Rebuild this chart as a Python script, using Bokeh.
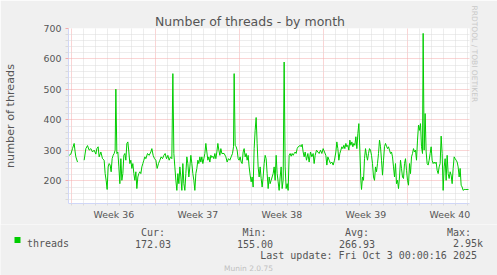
import math
from bokeh.plotting import figure
from bokeh.layouts import column
from bokeh.models import (Range1d, FixedTicker, Label, ColumnDataSource, Title)
from bokeh.embed import file_html
from bokeh.resources import INLINE

NAN = float("nan")

# ---- data (hours since left edge of graph, number of threads) ----
hours = [
    1.3, 4.7, 8.0, 11.3, 13.3, 14.7, 18.0, 24.0, 31.3, 34.7, 38.0, 41.3, 44.7, 48.0, 51.3, 54.7,
    56.7, 59.3, 61.3, 64.7, 68.0, 71.3, 73.3, 75.3, 77.3, 79.3, 81.3, 83.3, 85.3, 87.3, 89.3, 91.3,
    93.3, 94.7, 96.7, 98.7, 100.7, 102.7, 104.7, 106.7, 108.7, 110.7, 112.7, 114.7, 116.7, 118.7,
    120.7, 122.7, 124.7, 126.7, 128.7, 130.7, 132.7, 134.7, 136.7, 138.7, 140.7, 142.7, 144.7,
    146.7, 148.7, 150.7, 152.7, 154.7, 158.0, 161.3, 164.7, 166.7, 169.3, 172.0, 174.7, 177.3,
    180.0, 182.7, 185.3, 188.0, 190.7, 193.3, 196.0, 198.7, 201.3, 204.0, 206.7, 208.7, 210.7,
    212.7, 214.7, 216.7, 218.7, 220.7, 222.7, 224.7, 226.7, 228.7, 230.7, 232.7, 234.7, 236.7,
    238.7, 240.7, 242.7, 244.7, 246.7, 248.7, 250.7, 252.7, 254.7, 256.7, 258.7, 260.7, 262.7,
    264.7, 266.7, 268.7, 270.7, 272.7, 274.7, 276.7, 278.7, 280.7, 282.7, 284.7, 286.7, 288.7,
    290.7, 292.7, 294.7, 296.7, 298.7, 300.7, 302.7, 304.7, 306.7, 311.3, 314.7, 317.3, 320.0,
    322.7, 325.3, 328.0, 330.0, 331.3, 333.3, 335.3, 337.3, 339.3, 341.3, 343.3, 345.3, 347.3,
    349.3, 351.3, 353.3, 355.3, 357.3, 359.3, 361.3, 363.3, 365.3, 367.3, 369.3, 371.3, 373.3,
    375.3, 377.3, 379.3, 381.3, 383.3, 385.3, 387.3, 389.3, 391.3, 393.3, 395.3, 397.3, 399.3,
    401.3, 403.3, 405.3, 407.3, 409.3, 411.3, 413.3, 415.3, 417.3, 419.3, 421.3, 423.3, 425.3,
    427.3, 429.3, 431.3, 433.3, 435.3, 437.3, 439.3, 441.3, 443.3, 445.3, 447.3, 449.3, 451.3,
    453.3, 455.3, 457.3, 459.3, 461.3, 463.3, 465.3, 467.3, 469.3, 471.3, 473.3, 476.0, 478.7,
    481.3, 484.0, 486.7, 489.3, 491.3, 493.3, 496.0, 498.7, 501.3, 504.0, 506.7, 509.3, 512.0,
    514.7, 516.7, 518.7, 521.3, 524.0, 526.7, 529.3, 532.0, 534.7, 536.7, 538.7, 540.7, 542.7,
    544.7, 546.7, 548.7, 550.7, 552.7, 554.7, 556.7, 558.7, 560.7, 562.7, 564.7, 566.7, 568.7,
    570.7, 572.7, 574.7, 576.7, 578.7, 580.7, 582.7, 584.7, 586.0, 588.0, 590.0, 592.0, 594.0,
    596.0, 598.0, 600.0, 602.0, 604.0, 606.0, 608.0, 610.0, 612.0, 614.0, 616.0, 618.0, 620.0,
    622.0, 624.0, 626.0, 628.0, 630.0, 632.0, 634.0, 636.0, 638.0, 640.0, 642.0, 644.0, 646.0,
    648.0, 650.0, 652.0, 654.0, 656.0, 658.0, 660.0, 662.0, 664.0, 666.0, 668.0, 670.0, 672.0,
    674.0, 676.0, 678.0, 680.0, 682.0, 684.0, 686.0, 688.0, 690.0, 692.0, 694.0, 696.0, 698.0,
    700.0, 702.0, 704.0, 706.0, 708.0, 709.3, 711.3, 713.3, 715.3, 717.3, 719.3, 721.3, 723.3,
    725.3, 727.3, 729.3, 731.3, 733.3, 735.3, 737.3, 739.3, 741.3, 743.3, 745.3, 747.3, 749.3,
    751.3, 753.3, 755.3, 757.3, 759.3, 761.3, 763.3, 765.3, 767.3, 769.3, 771.3, 773.3, 775.3,
    777.3, 779.3, 781.3, 783.3, 785.3, 787.3, 789.3, 791.3, 794.7, 800.0,
]
threads = [
    284, 288, 306, 323, 295, 279, 262, NAN, 268, 306, 316, 301, 306, 295, 301, 288,
    306, 312, 279, 295, 273, 268, 224, 202, 172, 246, 257, 252, 230, 273, 284, 290,
    301, 501, 290, 295, 246, 191, 273, 202, 224, 284, 290, 268, 323, 328,
    295, 257, 268, 241, 257, 224, 202, 230, 175, 213, 224, 230, 224,
    246, 257, 268, 279, 273, 290, 284, 295, 306, 284, 273, 268, 241,
    257, 268, 279, 273, 284, 290, 273, 284, 268, 279, 273, 552, 290,
    246, 202, 169, 224, 191, 246, 213, 169, 257, 191, 169, 224, 279,
    257, 213, 246, 284, 257, 224, 202, 169, 224, 241, 268, 257, 279,
    262, 279, 257, 273, 290, 323, 295, 268, 279, 262, 284, 277, 281,
    273, 290, 273, 295, 323, 301, 284, 306, 290, 290, 279, 262, 273,
    268, 279, 290, 312, 552, 317, 312, 301, 273, 268, 279, 262, 257,
    295, 306, 279, 290, 268, 284, 246, 219, 197, 213, 180, 306, 366,
    408, 323, 246, 213, 246, 208, 180, 213, 257, 284, 273, 224, 175,
    213, 191, 202, 213, 224, 246, 202, 284, 224, 197, 169, 213, 246,
    175, 202, 590, 246, 175, 191, 169, 284, 290, 281, 290, 284, 290,
    295, 290, 306, 312, 314, 317, 312, 320, 295, 279, 295, 268, 290,
    262, 295, 279, 290, 257, 284, 301, 295, 290, 301, 290, 306, 295,
    284, 252, 279, 268, 257, 262, 252, 268, 295, 328, 306, 268, 290,
    301, 312, 306, 317, 306, 323, 312, 317, 301, 334, 317, 328, 312,
    323, 317, 345, 306, 355, 388, 301, 202, 172, 213, 202, 273, 306,
    284, 268, 290, 306, 301, 284, 257, 213, 202, 246, 230, 257, 290,
    334, 312, 268, 219, 268, 312, 323, 314, 306, 312, 301, 290, 295,
    279, 246, 213, 257, 191, 202, 175, 213, 268, 241, 213, 208, 257,
    273, 235, 202, 186, 257, 224, 279, 290, 306, 295, 301, 268, 334,
    383, 366, 388, 312, 290, 684, 301, 421, 295, 257, 252, 268, 290,
    312, 268, 257, 262, 257, 262, 235, 224, 246, 257, 347, 290, 169,
    246, 273, 202, 284, 224, 208, 230, 219, 191, 241, 279, 273, 268,
    262, 246, 213, 241, 186, 180, 169, 172, 172, 172,
]

week_labels = ["Week 36", "Week 37", "Week 38", "Week 39", "Week 40"]
week_start_hours = [6.6, 174.6, 342.6, 510.6, 678.6]
y_major = [200, 300, 400, 500, 600, 700]
y_minor = [140, 160, 180, 220, 240, 260, 280, 320, 340, 360, 380, 420, 440, 460,
           480, 520, 540, 560, 580, 620, 640, 660, 680]

title_text = "Number of threads - by month"
y_label_text = "number of threads"
series_name = "threads"
stat_names = ["Cur:", "Min:", "Avg:", "Max:"]
stat_values = ["172.03", "155.00", "266.93", "2.95k"]
last_update = "Last update: Fri Oct  3 00:00:16 2025"
footer = "Munin 2.0.75"
watermark = "RRDTOOL / TOBI OETIKER"

# ---- layout constants ----
W, H = 497, 275
H1 = 224                      # height of the graph part
FL, FR, FT, FB = 66, 467, 28, 203
X_END = 802.0
Y_MIN, Y_MAX = 126.0, 700.0

FONT = "DejaVu Sans"
MONO = "DejaVu Sans Mono"
TXT = "#555555"
MAJ = "#F5ABAB"
MIN = "#DADADA"
AXC = "#CFD6F8"
GREEN = "#00CC00"
BACK = "#F0F0F0"

p = figure(width=W, height=H1, output_backend="svg", toolbar_location=None,
           x_range=Range1d(0, X_END), y_range=Range1d(Y_MIN, Y_MAX),
           frame_width=FR - FL, frame_height=FB - FT,
           min_border_left=FL, min_border_right=W - FR,
           min_border_top=FT, min_border_bottom=H1 - FB)
p.frame_align = False
p.background_fill_color = "#FFFFFF"
p.border_fill_color = BACK
p.outline_line_color = None

# day lines (minor) and week lines (major)
day_lines = []
d = week_start_hours[0] - 24
while d < X_END:
    if d > 0 and all(abs(d - w) > 1e-6 for w in week_start_hours):
        day_lines.append(round(d, 2))
    d += 24
label_pos = [w + 84 for w in week_start_hours]

# x axis
xa = p.xaxis[0]
xa.ticker = FixedTicker(ticks=label_pos, minor_ticks=day_lines + week_start_hours)
xa.major_label_overrides = {lp: lab for lp, lab in zip(label_pos, week_labels)}
xa.major_tick_line_color = None
xa.major_tick_out = 0
xa.major_tick_in = 0
xa.minor_tick_line_color = MIN
xa.minor_tick_out = 2
xa.minor_tick_in = 0
xa.axis_line_color = AXC
xa.major_label_standoff = 3
xa.major_label_text_font = FONT
xa.major_label_text_font_size = "9.4px"
xa.major_label_text_color = TXT

# y axis
ya = p.yaxis[0]
ya.ticker = FixedTicker(ticks=y_major, minor_ticks=y_minor)
ya.axis_line_color = AXC
ya.major_tick_line_color = MAJ
ya.major_tick_out = 3
ya.major_tick_in = 0
ya.minor_tick_line_color = MIN
ya.minor_tick_out = 3
ya.minor_tick_in = 0
ya.major_label_standoff = 4
ya.major_label_text_font = FONT
ya.major_label_text_font_size = "9.4px"
ya.major_label_text_color = TXT
ya.axis_label = y_label_text
ya.axis_label_text_font = FONT
ya.axis_label_text_font_size = "11.2px"
ya.axis_label_text_font_style = "normal"
ya.axis_label_text_color = TXT
ya.axis_label_standoff = 24

# grids
p.xgrid.ticker = FixedTicker(ticks=week_start_hours, minor_ticks=day_lines)
p.xgrid.grid_line_color = MAJ
p.xgrid.grid_line_dash = "1 1"
p.xgrid.minor_grid_line_color = MIN
p.xgrid.minor_grid_line_dash = "1 1"
p.ygrid.ticker = FixedTicker(ticks=y_major, minor_ticks=y_minor)
p.ygrid.grid_line_color = MAJ
p.ygrid.grid_line_dash = "1 1"
p.ygrid.minor_grid_line_color = MIN
p.ygrid.minor_grid_line_dash = "1 1"

# series
src = ColumnDataSource(dict(h=hours, v=threads))
p.line("h", "v", source=src, line_color=GREEN, line_width=1)

# title (above) and watermark (right side)
p.add_layout(Title(text=title_text, align="left", offset=152.5 - FL,
                   text_font=FONT, text_font_size="12.5px", text_font_style="normal",
                   text_color=TXT, vertical_align="bottom", standoff=0), "above")
p.add_layout(Title(text=watermark, align="left", offset=-23,
                   text_font=FONT, text_font_size="7.5px", text_font_style="normal",
                   text_color="#C8C8C8", standoff=0), "right")

# ---- legend / statistics strip below the graph (1 data unit = 1 pixel) ----
H2 = H - H1
q = figure(width=W, height=H2, output_backend="svg", toolbar_location=None,
           x_range=Range1d(0, W), y_range=Range1d(H, H1),
           frame_width=W, frame_height=H2,
           min_border=0, min_border_left=0, min_border_right=0,
           min_border_top=0, min_border_bottom=0,
           x_axis_location=None, y_axis_location=None)
q.frame_align = False
q.background_fill_color = BACK
q.border_fill_color = BACK
q.outline_line_color = None
q.grid.visible = False


def add_text(txt, cx, cy, size, font=MONO, color=TXT, align="left"):
    q.add_layout(Label(x=cx, y=cy, text=txt, text_font=font, text_font_size=size,
                       text_color=color, text_align=align,
                       text_baseline="alphabetic"))


# legend key swatch and series name
q.quad(left=[14], right=[20], top=[236.5], bottom=[242.5],
       fill_color=GREEN, line_color=None)
add_text(series_name, 26.5, 243.3, "10px")

name_right = [164.5, 266.0, 368.5, 470.5]
value_right = [170.5, 272.5, 374.5, 482.5]
for nm, vl, nr, vr in zip(stat_names, stat_values, name_right, value_right):
    add_text(nm, nr, 231.5, "10px", align="right")
    add_text(vl, vr, 243.3, "10px", align="right")
add_text(last_update, 482.5, 255.3, "10px", align="right")
add_text(footer, 248, 267.5, "7.5px", font=FONT, color="#C0C0C0", align="center")

layout = column(p, q, spacing=0)
open("out.html", "w").write(file_html(layout, INLINE))
